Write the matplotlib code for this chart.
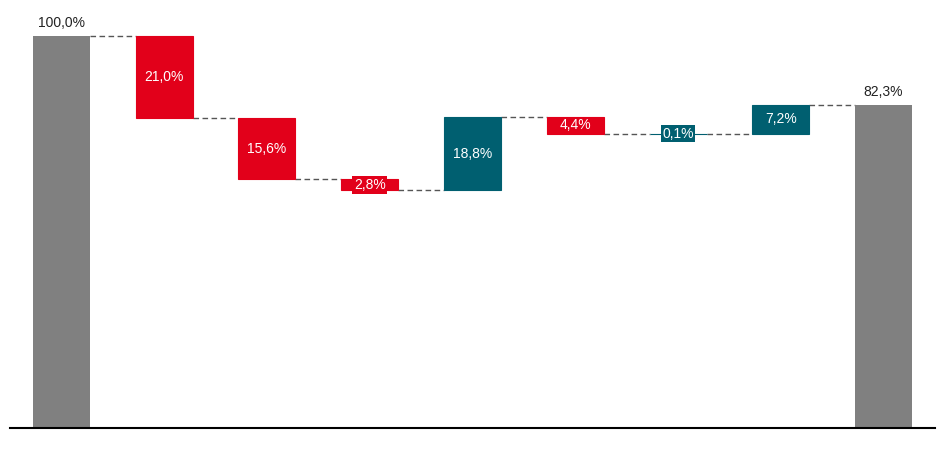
import matplotlib.pyplot as plt
import numpy as np

plt.rcParams.update(
    {
        "font.family": ["Liberation Sans", "DejaVu Sans"],
        "font.size": 10,
    }
)

# ======================
# 数据
# ======================
steps = ["Start", "S1", "S2", "S3", "S4", "S5", "S6", "S7", "End"]
start_value = 100.0
deltas = [-21.0, -15.6, -2.8, 18.8, -4.4, 0.1, 7.2]
end_value = 82.3

GRAY = "#808080"
RED = "#E2001A"
TEAL = "#005F70"


def fmt(v):
    return f"{abs(v):.1f}%".replace(".", ",")


fig = plt.figure(figsize=(9.45, 4.53), dpi=100)
ax = fig.add_axes([10 / 945, 1 - 428 / 453, 925 / 945, 418 / 453])

width = 0.555
x = np.arange(len(steps))

# 起始柱
ax.bar(x[0], start_value, width=width, color=GRAY, zorder=2)
ax.text(x[0], start_value + 1.5, fmt(start_value), ha="center", va="bottom", color="#222222")

levels = [start_value]
level = start_value
for i, d in enumerate(deltas, start=1):
    color = RED if d < 0 else TEAL
    bottom = level + d if d < 0 else level
    ax.bar(x[i], abs(d), bottom=bottom, width=width, color=color,
           edgecolor=color, linewidth=0.8, zorder=2)
    ax.text(
        x[i], bottom + abs(d) / 2, fmt(d),
        ha="center", va="center", color="white", zorder=3,
        bbox=dict(boxstyle="square,pad=0.12", facecolor=color, edgecolor="none"),
    )
    level += d
    levels.append(level)

# 结束柱
ax.bar(x[-1], end_value, width=width, color=GRAY, zorder=2)
ax.text(x[-1], end_value + 1.5, fmt(end_value), ha="center", va="bottom", color="#222222")

# 连接虚线
for i, lv in enumerate(levels):
    ax.plot([x[i] + width / 2, x[i + 1] - width / 2], [lv, lv],
            color="#555555", linestyle=(0, (4, 2.5)), linewidth=1, zorder=1)

ax.set_xlim(-0.5, 8.5)
ax.set_ylim(0, 106.6)
for s in ["top", "right", "left"]:
    ax.spines[s].set_visible(False)
ax.spines["bottom"].set_linewidth(1.5)
ax.spines["bottom"].set_zorder(4)
ax.set_xticks([])
ax.set_yticks([])

plt.savefig("out.png", dpi=100)
